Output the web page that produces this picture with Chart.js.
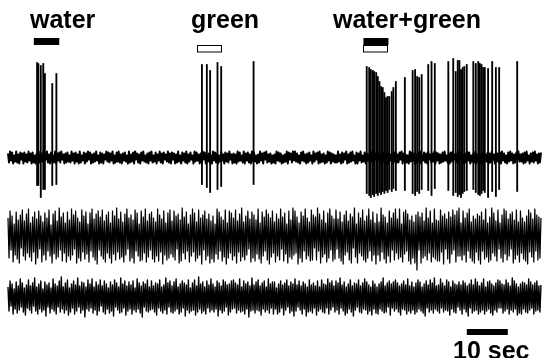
<!DOCTYPE html>
<html>
<head>
<meta charset="utf-8">
<script src="https://cdn.jsdelivr.net/npm/chart.js@4.4.0/dist/chart.umd.min.js"></script>
<style>
html,body{margin:0;padding:0;background:#fff;overflow:hidden}
#wrap{position:relative;width:542px;height:358px;overflow:hidden}
canvas{position:absolute;left:0;top:0}
.lbl{position:absolute;font:bold 25px/25px "Liberation Sans",Arial,sans-serif;color:#000;white-space:nowrap}
</style>
</head>
<body>
<div id="wrap">
  <canvas id="c" width="542" height="358"></canvas>
  <div class="lbl" style="left:30px;top:7px">water</div>
  <div class="lbl" style="left:191px;top:7px">green</div>
  <div class="lbl" style="left:333px;top:7px">water+green</div>
  <div class="lbl" style="left:453px;top:338px">10 sec</div>
</div>
<script>
// === DATA ===
// sample step of the recorded traces (s)
const sampleStep = 0.25;

// trace 1: unit recorded during stimulation (baseline noise, a.u.)
const trace1 = [
  4,-5,6,-3,5,-6,2,-4,6,-5,3,-6,5,-2,4,-6,5,-4,3,-5,
  6,-3,4,-6,5,-5,2,-6,4,-3,6,-5,3,-4,5,-6,4,-2,6,-5,
  3,-6,5,-4,2,-5,6,-6,4,-3,5,-5,6,-2,3,-6,4,-5,5,-4,
  2,-5,6,-3,4,-6,5,-4,3,-6,6,-5,2,-3,5,-6,4,-4,6,-2,
  5,-6,3,-5,4,-4,6,-3,2,-6,5,-5,4,-6,3,-2,6,-4,5,-5,
  4,-3,6,-6,2,-5,5,-4,6,-5,3,-6,4,-3,5,-4,2,-6,6,-5,
  3,-4,5,-6,6,-2,4,-5,3,-6,5,-3,6,-4,2,-5,4,-6,5,-3,
  6,-5,2,-4,5,-6,3,-3,6,-5,4,-6,5,-2,3,-4,6,-5,4,-6,
  5,-2,4,-6,3,-5,6,-4,2,-6,5,-3,4,-5,6,-6,3,-4,5,-2,
  2,-6,6,-4,5,-3,3,-6,4,-5,6,-2,5,-6,3,-4,4,-5,2,-6,
  6,-3,5,-5,4,-6,2,-4,6,-3,3,-6,5,-4,4,-5,6,-2,3,-6,
  4,-5,3,-6,6,-4,5,-3,2,-5,6,-6,4,-3,5,-5,3,-6,6,-4,
  5,-4,2,-6,3,-5,6,-3,4,-6,5,-2,6,-5,3,-4,4,-6,2,-5,
  3,-6,6,-3,5,-4,4,-6,2,-5,3,-4,6,-6,5,-2,4,-5,6,-3,
  6,-4,4,-5,2,-6,5,-3,6,-4,3,-6,4,-5,5,-3,2,-6,6,-4,
  4,-2,5,-6,6,-5,3,-4,4,-6,2,-5,6,-3,5,-6,4,-4,3,-5,
  2,-5,6,-4,3,-6,5,-5,4,-2,6,-6,3,-5,5,-4,6,-3,2,-6,
  5,-6,4,-3,6,-5,2,-4,5,-6,4,-3,3,-5,6,-4,5,-6,4,-2,
  6,-3,3,-6,4,-5,5,-4,2,-6,6,-5,4,-3,3,-6,5,-4,6,-5,
  3,-5,5,-2,6,-6,4,-4,3,-5,2,-6,6,-4,5,-3,4,-6,3,-5,
  5,-4,6,-6,2,-3,5,-5,4,-6,6,-2,3,-5,4,-4,6,-6,5,-3,
  4,-6,3,-5,5,-4,6,-3,2,-5,4,-6,5,-4,6,-2,3,-5,4,-6,
  6,-2,5,-4,3,-6,4,-5,6,-3,5,-6,2,-4,4,-5,6,-6,3,-4,
  2,-5,4,-6,6,-3,3,-4,5,-6,4,-5,6,-2,3,-6,5,-4,4,-5,
  5,-6,6,-3,4,-5,2,-6,5,-4,6,-3,4,-6,3,-5,5,-2,6,-4,
  3,-4,4,-6,5,-5,6,-3,2,-6,4,-4,5,-5,6,-3,3,-6,4,-5,
  5
];

// spikes on trace 1: time (s), peak and trough (a.u.)
const spikeTimes = [
  7.1, 7.4, 8.0, 8.6, 9.0, 10.8, 11.8,
  47.3, 48.5, 49.3, 51.1, 52.0, 59.9,
  87.5, 88.1, 88.5, 89.0, 89.3, 89.8, 90.2, 90.6, 91.0, 91.4,
  91.8, 92.2, 92.6, 93.0, 93.6, 94.0, 94.6, 96.8, 98.7, 99.3,
  99.8, 100.3, 100.9, 102.5, 103.3, 104.1, 107.4, 108.6, 109.2, 109.7,
  110.1, 110.5, 110.9, 111.3, 111.9, 113.5, 114.1, 114.7, 115.1, 115.5,
  115.9, 116.3, 117.1, 118.1, 119.0, 119.8, 124.2
];
const spikePeaks = [
  95, 94, 92, 94, 84, 74, 84,
  93, 93, 87, 95, 91, 96,
  91, 90, 88, 87, 86, 85, 81, 76, 71, 70,
  65, 60, 61, 61, 66, 70, 76, 80, 87, 88,
  81, 80, 83, 93, 96, 94, 96, 99, 86, 97,
  97, 88, 90, 91, 93, 96, 94, 96, 94, 93,
  90, 90, 89, 96, 90, 90, 96
];
const spikeTroughs = [
  -28, -28, -40, -32, -32, -28, -27,
  -27, -30, -35, -32, -29, -27,
  -36, -38, -40, -37, -39, -36, -38, -35, -37, -34,
  -36, -33, -35, -32, -34, -31, -33, -33, -36, -38,
  -34, -36, -32, -33, -38, -31, -33, -38, -35, -39,
  -37, -40, -36, -34, -33, -32, -35, -37, -38, -36,
  -33, -35, -40, -34, -39, -32, -34
];

// trace 2 and trace 3: control recordings (a.u.)
const trace2 = [
  18,-22,25,-14,20,-26,12,-19,24,-23,16,-27,21,-12,26,-20,15,-24,22,-17,
  27,-21,13,-25,19,-16,24,-28,17,-22,25,-13,20,-26,14,-19,23,-24,18,-15,
  26,-20,11,-27,22,-18,25,-23,15,-21,28,-14,19,-25,23,-17,13,-26,24,-20,
  16,-24,27,-19,21,-13,25,-27,18,-22,14,-25,26,-16,20,-23,24,-18,12,-26,
  23,-15,27,-21,17,-24,22,-28,25,-14,19,-20,26,-23,15,-26,21,-17,24,-22,
  13,-27,25,-18,20,-24,28,-16,17,-23,24,-21,14,-26,22,-19,27,-13,18,-25,
  21,-22,16,-27,26,-15,23,-20,12,-25,25,-24,19,-17,27,-26,15,-21,22,-14,
  24,-23,18,-26,14,-20,27,-25,21,-16,17,-28,25,-19,13,-24,23,-22,26,-18,
  15,-21,25,-24,20,-13,22,-27,16,-25,28,-17,19,-23,24,-15,12,-26,21,-20,
  27,-16,23,-25,14,-22,26,-19,18,-28,21,-14,25,-24,17,-20,22,-27,15,-23,
  20,-26,12,-18,27,-23,24,-15,19,-25,16,-21,26,-28,13,-22,25,-17,23,-24,
  18,-20,26,-27,15,-16,22,-25,28,-21,14,-24,20,-19,25,-13,17,-26,24,-22,
  21,-25,16,-18,27,-23,13,-27,24,-20,19,-15,26,-24,22,-28,18,-21,25,-17,
  14,-26,22,-20,17,-24,27,-13,19,-25,23,-18,12,-27,25,-21,16,-23,28,-19,
  25,-17,19,-28,13,-22,24,-26,20,-15,27,-23,18,-20,14,-25,26,-24,21,-12,
  19,-24,28,-15,22,-27,16,-21,25,-18,13,-26,23,-22,27,-14,20,-25,17,-23,
  26,-13,17,-22,24,-25,14,-28,21,-19,25,-16,15,-24,22,-27,19,-12,28,-21,
  12,-27,23,-17,18,-20,26,-24,15,-26,20,-22,27,-15,16,-25,24,-19,13,-28,
  22,-19,14,-25,28,-16,21,-23,19,-27,13,-20,25,-26,18,-14,23,-24,27,-17,
  17,-23,27,-21,12,-26,24,-18,26,-15,22,-25,16,-28,20,-22,14,-27,21,-34,
  24,-14,19,-27,23,-22,15,-20,28,-24,18,-17,25,-26,13,-21,27,-23,16,-25,
  15,-25,26,-16,20,-28,22,-13,17,-23,24,-27,19,-18,26,-14,21,-26,25,-20,
  28,-20,13,-24,25,-19,18,-26,23,-15,27,-22,14,-25,20,-27,17,-16,22,-24,
  20,-28,24,-15,16,-23,27,-21,13,-26,19,-24,28,-17,23,-20,15,-25,26,-13,
  13,-22,21,-26,27,-18,25,-24,17,-20,22,-13,24,-27,16,-23,26,-19,14,-26,
  25,-17,18,-23,14,-25,20,-28,26,-16,23,-21,17,-26,27,-15,21,-24,19,-22,
  18
];
const trace3 = [
  10,-14,16,-9,13,-17,8,-12,15,-16,11,-13,18,-10,14,-15,9,-18,12,-11,
  17,-13,11,-16,14,-9,19,-14,10,-17,13,-12,16,-15,8,-13,15,-19,12,-10,
  14,-16,9,-12,18,-14,13,-17,11,-10,16,-15,20,-12,10,-16,14,-13,17,-18,
  9,-15,13,-11,16,-17,12,-14,19,-10,11,-16,15,-13,14,-20,10,-12,17,-14,
  13,-11,18,-16,10,-13,15,-18,12,-14,17,-9,11,-15,16,-17,13,-12,9,-16,
  15,-14,12,-19,17,-10,14,-13,10,-16,19,-15,13,-11,16,-18,11,-14,15,-12,
  12,-17,16,-13,9,-15,18,-12,14,-16,11,-20,15,-10,13,-14,17,-15,10,-13,
  16,-12,11,-15,14,-18,13,-11,17,-14,10,-16,12,-13,19,-17,14,-10,16,-15,
  11,-16,15,-14,18,-12,10,-17,13,-15,16,-11,14,-19,12,-13,17,-16,9,-14,
  14,-13,17,-18,11,-15,20,-12,13,-16,15,-14,10,-17,16,-11,12,-15,18,-13,
  13,-15,10,-12,16,-19,14,-13,11,-16,17,-14,15,-10,12,-18,13,-15,16,-12,
  17,-11,14,-16,12,-13,18,-15,10,-14,16,-17,13,-12,15,-20,11,-14,19,-13,
  12,-16,15,-13,17,-14,11,-18,14,-12,16,-15,10,-13,18,-16,13,-11,15,-17,
  15,-12,9,-17,13,-15,16,-11,12,-18,14,-13,17,-10,11,-16,15,-14,13,-19,
  18,-14,12,-10,16,-13,11,-17,15,-12,13,-19,10,-15,17,-14,12,-16,14,-11,
  11,-18,16,-14,10,-12,17,-15,13,-16,12,-11,18,-17,14,-13,16,-10,11,-15,
  16,-13,14,-17,19,-11,12,-14,15,-18,10,-16,13,-12,17,-15,11,-19,14,-13,
  13,-10,17,-15,11,-16,14,-12,18,-13,15,-17,12,-14,10,-18,16,-12,13,-16,
  10,-17,13,-12,15,-14,19,-16,11,-15,14,-10,16,-18,13,-11,15,-14,17,-12,
  14,-15,11,-18,13,-12,16,-13,12,-17,18,-14,11,-16,15,-13,10,-17,14,-15,
  17,-12,15,-14,10,-16,13,-19,16,-11,12,-15,17,-13,14,-16,19,-12,11,-14,
  12,-16,18,-11,14,-15,11,-13,17,-14,15,-18,10,-12,16,-15,13,-16,12,-10,
  15,-13,12,-17,16,-12,14,-15,11,-19,13,-11,17,-16,12,-14,18,-13,15,-17,
  11,-15,14,-13,18,-17,10,-14,15,-12,16,-16,13,-18,11,-13,14,-15,17,-11,
  16,-11,13,-16,12,-14,17,-12,14,-17,11,-13,19,-15,16,-12,13,-18,10,-16,
  13,-17,15,-12,14,-15,12,-16,18,-13,15,-11,12,-17,14,-14,16,-13,11,-15,
  12
];

// stimulus periods (s)
const stimNames = ['water', 'green', 'water+green'];
const stimOn    = [6.3, 46.2, 86.7];
const stimOff   = [12.5, 52.3, 92.8];
const stimWater = [true, false, true];
const stimGreen = [false, true, true];

// time scale bar (s)
const scaleBarStart = 111.9;
const scaleBarLen = 10;

// === CHART ===
function toPoints(vals) { return vals.map((v, i) => ({x: i * sampleStep, y: v})); }

const stimPlugin = {
  id: 'stim',
  afterDatasetsDraw(chart) {
    const xs = chart.scales.x, ctx = chart.ctx;
    ctx.save();
    stimNames.forEach((n, i) => {
      const x0 = xs.getPixelForValue(stimOn[i]), x1 = xs.getPixelForValue(stimOff[i]);
      if (stimWater[i]) { ctx.fillStyle = '#000'; ctx.fillRect(x0, 38, x1 - x0, 7); }
      if (stimGreen[i]) {
        ctx.fillStyle = '#fff'; ctx.fillRect(x0, 45.5, x1 - x0, 6.5);
        ctx.strokeStyle = '#000'; ctx.lineWidth = 1;
        ctx.strokeRect(Math.round(x0) + 0.5, 45.5, Math.round(x1 - x0) - 1, 6.5);
      }
    });
    const s0 = xs.getPixelForValue(scaleBarStart), s1 = xs.getPixelForValue(scaleBarStart + scaleBarLen);
    ctx.fillStyle = '#000';
    ctx.fillRect(s0, 329, s1 - s0, 6);
    ctx.restore();
  }
};

const lineDs = (vals, axis, w) => ({type: 'line', data: toPoints(vals), yAxisID: axis,
  borderColor: '#000', borderWidth: w, borderJoinStyle: 'round',
  pointRadius: 0, tension: 0, fill: false});

new Chart(document.getElementById('c'), {
  type: 'line',
  data: {datasets: [
    lineDs(trace1, 'y1', 2),
    {type: 'bar', yAxisID: 'y1', backgroundColor: '#000', borderWidth: 0,
      barThickness: 1.2, grouped: false,
      data: spikeTimes.map((t, i) => ({x: t, y: [spikeTroughs[i], spikePeaks[i]]}))},
    lineDs(trace2, 'y2', 1.25),
    lineDs(trace3, 'y3', 1.4)
  ]},
  options: {responsive: false, animation: false, events: [],
    layout: {padding: 0},
    plugins: {legend: {display: false}, tooltip: {enabled: false}},
    scales: {
      x:  {type: 'linear', min: -1.95, max: 130.25, offset: false, display: false},
      y1: {type: 'linear', min: -200.5, max: 157.5, display: false},
      y2: {type: 'linear', min: -122, max: 236, display: false},
      y3: {type: 'linear', min: -61, max: 297, display: false}
    }},
  plugins: [stimPlugin]
});
</script>
</body>
</html>
